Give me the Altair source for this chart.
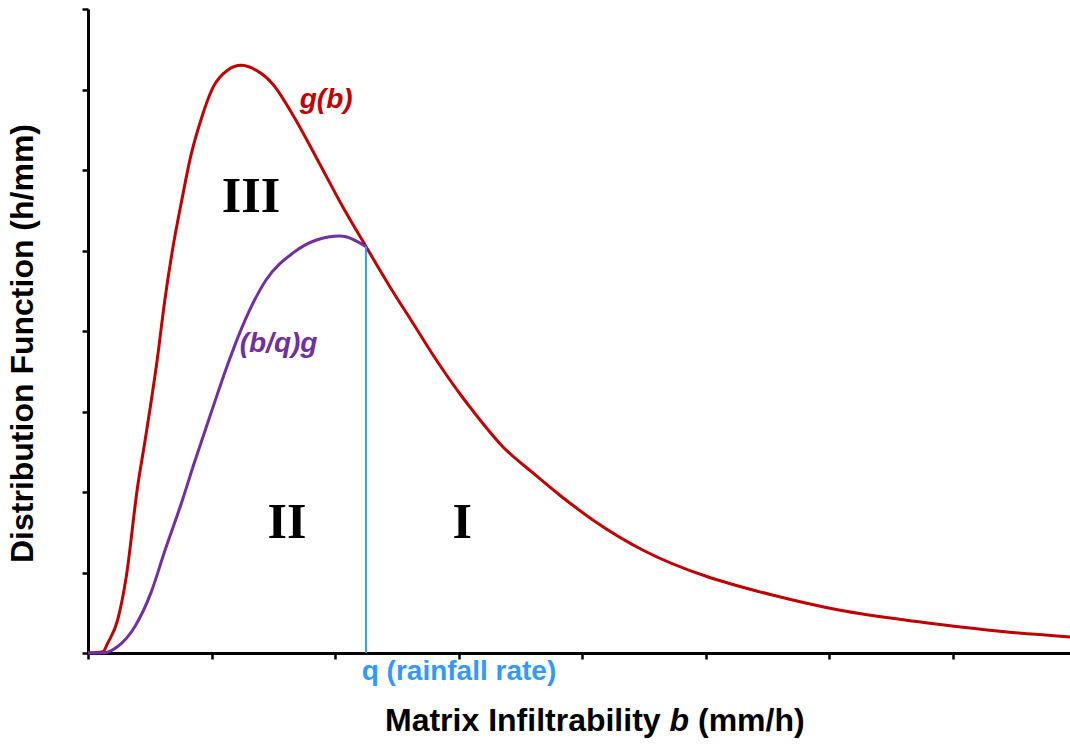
import altair as alt
import pandas as pd

# g(b) curve (red)
g_b = [0, 0.12, 0.16, 0.24, 0.31, 0.40, 0.46, 0.56, 0.62, 0.68, 0.76, 0.83, 0.92, 1.01,
       1.13, 1.24, 1.36, 1.50, 1.66, 1.85, 2.06, 2.25, 2.44, 2.63, 2.82, 3.03, 3.11, 3.36,
       3.60, 3.82, 4.09, 4.49, 5.01, 5.20, 5.54, 6.09, 6.71, 7.44, 7.95]
g_val = [0, 0.016, 0.124, 0.41, 0.95, 2.05, 2.62, 3.64, 4.36, 4.97, 5.63, 6.16, 6.65, 7.02,
         7.24, 7.30, 7.24, 7.06, 6.68, 6.15, 5.55, 5.05, 4.56, 4.10, 3.64, 3.18, 3.02, 2.56,
         2.24, 1.96, 1.65, 1.28, 0.95, 0.86, 0.72, 0.53, 0.39, 0.26, 0.20]

# (b/q)g curve (purple), up to b = q
p_b = [0, 0.135, 0.24, 0.38, 0.51, 0.62, 0.76, 0.86, 1.00, 1.13, 1.24, 1.44, 1.66, 1.85, 2.04, 2.25]
p_val = [0, 0.004, 0.08, 0.33, 0.75, 1.26, 1.88, 2.36, 3.00, 3.58, 4.02, 4.63, 4.97, 5.13, 5.18, 5.05]

q_value = 2.25
q_top = 5.05

x_ticks = [0, 1, 2, 3, 4, 5, 6, 7]
y_ticks = [0, 1, 2, 3, 4, 5, 6, 7, 8]

RED = "#C00000"
PURPLE = "#7030A0"
BLUE = "#3399FF"
SANS = "Liberation Sans, Arial, sans-serif"
SERIF = "Liberation Serif, Times New Roman, serif"

g_df = pd.DataFrame({"b": g_b, "v": g_val})
p_df = pd.DataFrame({"b": p_b, "v": p_val})
q_df = pd.DataFrame({"b": [q_value], "y0": [0.0], "y1": [q_top]})

xs = alt.Scale(domain=[0, 7.95], nice=False, zero=False)
ys = alt.Scale(domain=[0, 8], nice=False)

x_axis = alt.Axis(values=x_ticks, labels=False, grid=False, title=None,
                  domainColor="black", domainWidth=3, tickColor="black",
                  tickWidth=2.5, tickSize=6)
y_axis = alt.Axis(values=y_ticks, labels=False, grid=False,
                  title="Distribution Function  (h/mm)",
                  titleFont=SANS, titleFontSize=32, titleFontWeight="bold",
                  titleColor="black", titleAngle=270, titleAlign="center",
                  titleBaseline="middle", titleX=-66, titleY=334,
                  domainColor="black", domainWidth=3, tickColor="black",
                  tickWidth=2.5, tickSize=6)

base_red = alt.Chart(g_df).mark_line(color=RED, strokeWidth=3, interpolate="monotone").encode(
    x=alt.X("b:Q", scale=xs, axis=x_axis),
    y=alt.Y("v:Q", scale=ys, axis=y_axis),
)
purple = alt.Chart(p_df).mark_line(color=PURPLE, strokeWidth=3, interpolate="monotone").encode(
    x=alt.X("b:Q", scale=xs), y=alt.Y("v:Q", scale=ys))
qline = alt.Chart(q_df).mark_rule(color=BLUE, strokeWidth=2).encode(
    x=alt.X("b:Q", scale=xs), y=alt.Y("y0:Q", scale=ys), y2="y1:Q")

def label(txt, x, y, color, font, size, italic=False, align="left"):
    return alt.Chart(pd.DataFrame({"x": [x], "y": [y], "t": [txt]})).mark_text(
        font=font, fontSize=size, fontWeight="bold",
        fontStyle="italic" if italic else "normal",
        color=color, align=align, baseline="alphabetic", clip=False
    ).encode(x=alt.X("x:Q", scale=xs), y=alt.Y("y:Q", scale=ys), text="t:N")

lab_g = label("g(b)", 1.714, 6.77, RED, SANS, 28, italic=True)
lab_p = label("(b/q)g", 1.228, 3.74, PURPLE, SANS, 28, italic=True)
lab_III = label("III", 1.32, 5.48, "black", SERIF, 50, align="center")
lab_II = label("II", 1.61, 1.43, "black", SERIF, 50, align="center")
lab_I = label("I", 3.03, 1.43, "black", SERIF, 50, align="center")
lab_q = label("q (rainfall rate)", 2.216, -0.34, BLUE, SANS, 28)

def ptext(txt, px, py, italic=False):
    return alt.Chart(pd.DataFrame({"t": [txt]})).mark_text(
        font=SANS, fontSize=32, fontWeight="bold",
        fontStyle="italic" if italic else "normal", color="black",
        align="left", baseline="alphabetic", clip=False
    ).encode(x=alt.value(px), y=alt.value(py), text="t:N")

xt1 = ptext("Matrix Infiltrability", 297, 722)
xt2 = ptext("b", 581.5, 722, italic=True)
xt3 = ptext("(mm/h)", 610, 722)

chart = alt.layer(
    base_red, purple, qline, lab_g, lab_p, lab_III, lab_II, lab_I, lab_q, xt1, xt2, xt3
).properties(
    width=982, height=644,
    autosize=alt.AutoSizeParams(type="none"),
    padding={"left": 88, "top": 9, "right": 0, "bottom": 92},
    background="white",
).configure_view(stroke=None)

chart.save("out.html", embed_options={"renderer": "svg", "actions": False})
